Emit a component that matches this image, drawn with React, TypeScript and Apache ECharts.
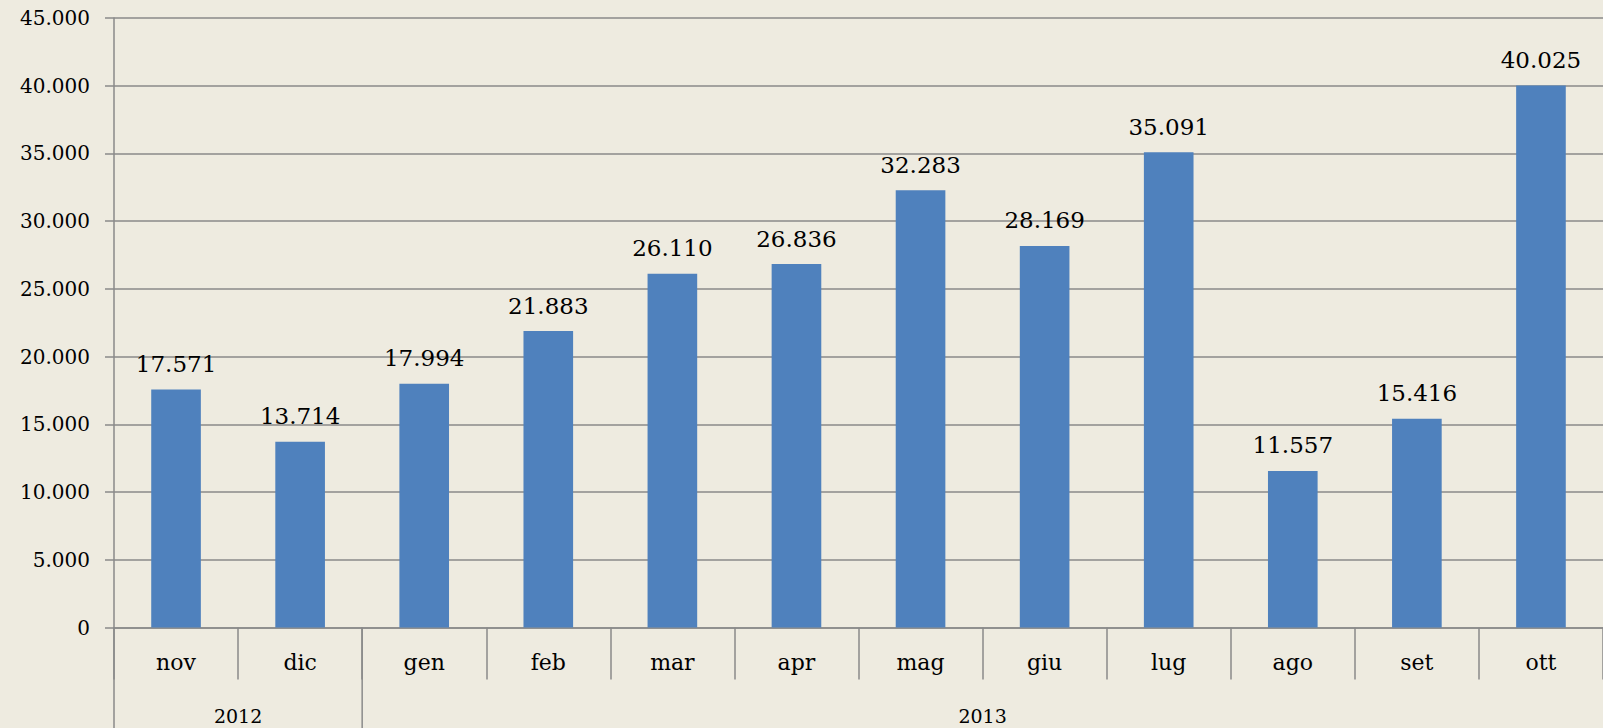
import React, { useEffect, useRef } from "react";
import * as echarts from "echarts";

const months = ["nov", "dic", "gen", "feb", "mar", "apr", "mag", "giu", "lug", "ago", "set", "ott"];
const values = [17571, 13714, 17994, 21883, 26110, 26836, 32283, 28169, 35091, 11557, 15416, 40025];
const years = ["2012", "2013"];
const yearStartIdx = [0, 2];
const yearEndIdx = [1, 11];

const FONT = "'DejaVu Serif', serif";
const GRID = "#8a8a8a";
const fmt = (v: number) => String(v).replace(/\B(?=(\d{3})+(?!\d))/g, ".");

export default function App() {
  const ref = useRef<HTMLDivElement>(null);
  useEffect(() => {
    document.body.style.margin = "0";
    const chart = echarts.init(ref.current!, null, { renderer: "svg" });
    chart.setOption({
      animation: false,
      backgroundColor: "#EEEBE0",
      grid: { left: 114, right: 0, top: 18, bottom: 100.5 },
      xAxis: {
        type: "category",
        data: months,
        boundaryGap: true,
        axisLine: { show: true, lineStyle: { color: GRID, width: 1.5 } },
        axisTick: { show: true, interval: 0, length: 52, lineStyle: { color: GRID, width: 1.5 } },
        axisLabel: {
          interval: 0,
          margin: 35,
          verticalAlign: "middle",
          color: "#000",
          fontFamily: FONT,
          fontSize: 22,
        },
      },
      yAxis: {
        type: "value",
        min: 0,
        max: 45000,
        interval: 5000,
        axisLine: { show: true, lineStyle: { color: GRID, width: 1.5 } },
        axisTick: { show: true, length: 9, lineStyle: { color: GRID, width: 1.5 } },
        splitLine: { show: true, lineStyle: { color: GRID, width: 1.5 } },
        axisLabel: {
          margin: 24,
          color: "#000",
          fontFamily: FONT,
          fontSize: 20,
          formatter: (v: number) => fmt(v),
        },
      },
      series: [
        {
          type: "bar",
          data: values,
          barWidth: "40%",
          itemStyle: { color: "#4F81BD" },
          label: {
            show: true,
            position: "top",
            distance: 14,
            color: "#000",
            fontFamily: FONT,
            fontSize: 23,
            formatter: (p: any) => fmt(p.value),
          },
        },
      ],
    });

    const x0 = chart.convertToPixel({ xAxisIndex: 0 }, months[0]) as number;
    const x1 = chart.convertToPixel({ xAxisIndex: 0 }, months[1]) as number;
    const bw = x1 - x0;
    const yZero = chart.convertToPixel({ yAxisIndex: 0 }, 0) as number;
    const h = chart.getHeight();
    const graphics: any[] = [];
    years.forEach((y, i) => {
      const left = (chart.convertToPixel({ xAxisIndex: 0 }, months[yearStartIdx[i]]) as number) - bw / 2;
      const right = (chart.convertToPixel({ xAxisIndex: 0 }, months[yearEndIdx[i]]) as number) + bw / 2;
      graphics.push({
        type: "line",
        shape: { x1: left, y1: yZero, x2: left, y2: h },
        style: { stroke: GRID, lineWidth: 1.5 },
      });
      graphics.push({
        type: "text",
        x: (left + right) / 2,
        y: yZero + 88,
        style: {
          text: y,
          fill: "#000",
          font: `19px ${FONT}`,
          align: "center",
          verticalAlign: "middle",
        },
      });
    });
    chart.setOption({ graphic: graphics });
    return () => chart.dispose();
  }, []);
  return <div ref={ref} style={{ width: 1603, height: 728 }} />;
}
